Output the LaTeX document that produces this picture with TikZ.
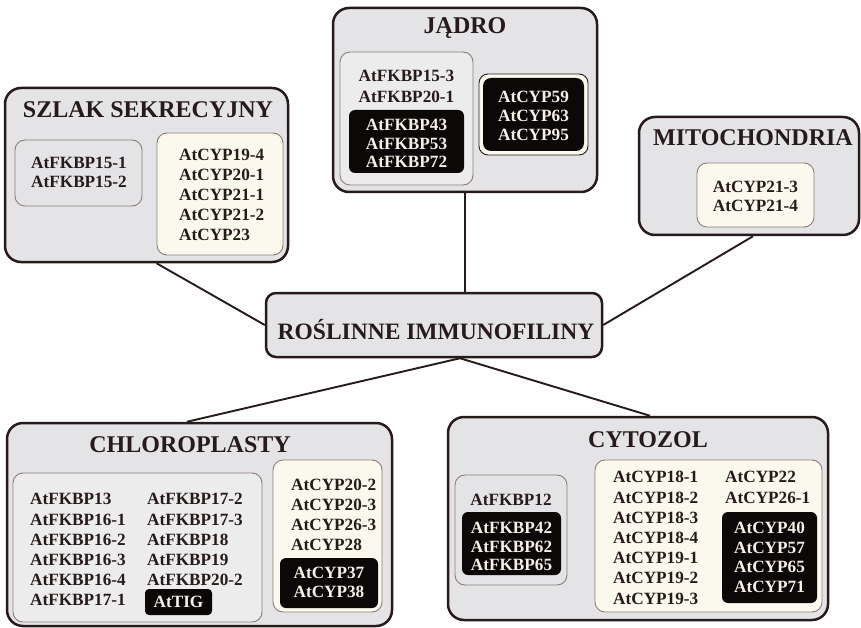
\documentclass[tikz,border=0pt]{standalone}
\usepackage{fontspec}
\setmainfont{Liberation Serif}
\usetikzlibrary{calc}
\definecolor{outerfill}{RGB}{228,228,231}
\definecolor{lightfill}{RGB}{236,236,236}
\definecolor{cream}{RGB}{251,249,238}
\definecolor{inkdark}{RGB}{38,26,26}
\definecolor{innerline}{RGB}{140,125,118}
\definecolor{blackbox}{RGB}{12,8,8}
\definecolor{whitetxt}{RGB}{245,240,230}
\begin{document}
\begin{tikzpicture}[x=1pt,y=-1pt,
  region/.style={draw=inkdark, line width=2.5pt, rounded corners=16pt, fill=outerfill, inner sep=0},
  greybox/.style={draw=innerline, line width=0.9pt, rounded corners=10pt, fill=outerfill, inner sep=0},
  lightbox/.style={greybox, fill=lightfill},
  creambox/.style={greybox, fill=cream},
  darkbox/.style={fill=blackbox, rounded corners=6pt, draw=none, inner sep=0},
  titletext/.style={font=\fontsize{24}{26}\selectfont\bfseries, text=inkdark, inner sep=0},
  centertext/.style={font=\fontsize{23.5}{26}\selectfont\bfseries, text=inkdark, inner sep=0},
  item/.style={font=\fontsize{17.2}{19}\selectfont\bfseries, text=inkdark, inner sep=0, text height=11.5, text depth=0},
  witem/.style={item, text=whitetxt},
  link/.style={draw=inkdark, line width=1.9pt}
]
\fill[white] (0,0) rectangle (861,628);
\useasboundingbox (0,0) rectangle (861,628);

% ---------- center ----------
\node[region, rounded corners=10pt, minimum width=336, minimum height=64] (center) at (434,325) {};
\node[centertext] (centerT) at (436,330) {ROŚLINNE IMMUNOFILINY};

% ---------- SZLAK SEKRECYJNY ----------
\node[region, minimum width=283, minimum height=174] (szlak) at (146.5,175) {};
\node[titletext] (szlakT) at (148,110) {SZLAK SEKRECYJNY};
\node[greybox, minimum width=127, minimum height=66] (szA) at (78.5,173) {};
\node[item] (szA1) at (79,163) {AtFKBP15-1};
\node[item] (szA2) at (79,182) {AtFKBP15-2};
\node[creambox, minimum width=126, minimum height=122] (szB) at (220,194) {};
\foreach \t [count=\i] in {AtCYP19-4,AtCYP20-1,AtCYP21-1,AtCYP21-2,AtCYP23}
  \node[item, anchor=west] (szB\i) at (179,{135+20*\i}) {\t};

% ---------- JADRO ----------
\node[region, minimum width=264, minimum height=184] (jadro) at (465,100) {};
\node[titletext] (jadroT) at (465,28) {JĄDRO};
\node[lightbox, minimum width=133, minimum height=133] (jA) at (406.5,118.5) {};
\node[item] (jA1) at (406.5,76) {AtFKBP15-3};
\node[item] (jA2) at (406.5,97) {AtFKBP20-1};
\node[darkbox, minimum width=115, minimum height=63] (jAk) at (406.5,141.5) {};
\foreach \t [count=\i] in {AtFKBP43,AtFKBP53,AtFKBP72}
  \node[witem] (jAk\i) at (406.5,{106+18.7*\i}) {\t};
\node[creambox, draw=inkdark, rounded corners=9pt, minimum width=109, minimum height=81] (jB) at (533.5,114.5) {};
\node[darkbox, rounded corners=8pt, minimum width=101, minimum height=73] (jBk) at (533.5,114.5) {};
\foreach \t [count=\i] in {AtCYP59,AtCYP63,AtCYP95}
  \node[witem] (jBk\i) at (533.5,{78+19*\i}) {\t};

% ---------- MITOCHONDRIA ----------
\node[region, minimum width=220, minimum height=118] (mito) at (749,176) {};
\node[titletext] (mitoT) at (753,138) {MITOCHONDRIA};
\node[creambox, minimum width=117, minimum height=64] (mitoA) at (755.5,195) {};
\node[item] (mitoA1) at (755.5,187) {AtCYP21-3};
\node[item] (mitoA2) at (755.5,206) {AtCYP21-4};

% ---------- CHLOROPLASTY ----------
\node[region, minimum width=385, minimum height=203] (chloro) at (199.5,524.5) {};
\node[titletext] (chloroT) at (190,445) {CHLOROPLASTY};
\node[lightbox, minimum width=249, minimum height=149] (chA) at (137.5,547.5) {};
\foreach \t [count=\i] in {AtFKBP13,AtFKBP16-1,AtFKBP16-2,AtFKBP16-3,AtFKBP16-4,AtFKBP17-1}
  \node[item, anchor=west] (chAa\i) at (30,{479+20.2*\i}) {\t};
\foreach \t [count=\i] in {AtFKBP17-2,AtFKBP17-3,AtFKBP18,AtFKBP19,AtFKBP20-2}
  \node[item, anchor=west] (chAb\i) at (147,{479+20.2*\i}) {\t};
\node[darkbox, rounded corners=4pt, minimum width=67, minimum height=26] (tig) at (178.5,602) {};
\node[witem] (tigT) at (178.5,602) {AtTIG};
\node[creambox, minimum width=109, minimum height=152] (chB) at (327.5,536) {};
\foreach \t [count=\i] in {AtCYP20-2,AtCYP20-3,AtCYP26-3,AtCYP28}
  \node[item, anchor=west] (chB\i) at (291,{465+20*\i}) {\t};
\node[darkbox, minimum width=98, minimum height=50] (chBk) at (329,583) {};
\node[witem] (chBk1) at (329,573) {AtCYP37};
\node[witem] (chBk2) at (329,592) {AtCYP38};

% ---------- CYTOZOL ----------
\node[region, minimum width=380, minimum height=203] (cyto) at (638,518.5) {};
\node[titletext] (cytoT) at (648,440) {CYTOZOL};
\node[greybox, minimum width=112, minimum height=110] (cyA) at (511,530) {};
\node[item] (cyA1) at (511,500) {AtFKBP12};
\node[darkbox, minimum width=99, minimum height=63] (cyAk) at (511.5,543.5) {};
\foreach \t [count=\i] in {AtFKBP42,AtFKBP62,AtFKBP65}
  \node[witem] (cyAk\i) at (511.5,{509+18.7*\i}) {\t};
\node[creambox, minimum width=227, minimum height=152] (cyB) at (708.5,536) {};
\foreach \t [count=\i] in {AtCYP18-1,AtCYP18-2,AtCYP18-3,AtCYP18-4,AtCYP19-1,AtCYP19-2,AtCYP19-3}
  \node[item, anchor=west] (cyBa\i) at (613,{457+20.2*\i}) {\t};
\node[item, anchor=west] (cyBb1) at (725,477) {AtCYP22};
\node[item, anchor=west] (cyBb2) at (725,498) {AtCYP26-1};
\node[darkbox, minimum width=95, minimum height=91] (cyBk) at (769.5,557.5) {};
\foreach \t [count=\i] in {AtCYP40,AtCYP57,AtCYP65,AtCYP71}
  \node[witem] (cyBk\i) at (769.5,{508.5+19.5*\i}) {\t};

% ---------- connectors ----------
\draw[link] ([xshift=10]szlak.south) -- (center.west);
\draw[link] (jadro.south) -- (jadro.south |- center.north);
\draw[link] ([xshift=4]mito.south) -- (center.east);
\draw[link] ([xshift=26]center.south) -- ([xshift=-12.5]chloro.north);
\draw[link] ([xshift=26]center.south) -- ([xshift=12]cyto.north);
\end{tikzpicture}
\end{document}
